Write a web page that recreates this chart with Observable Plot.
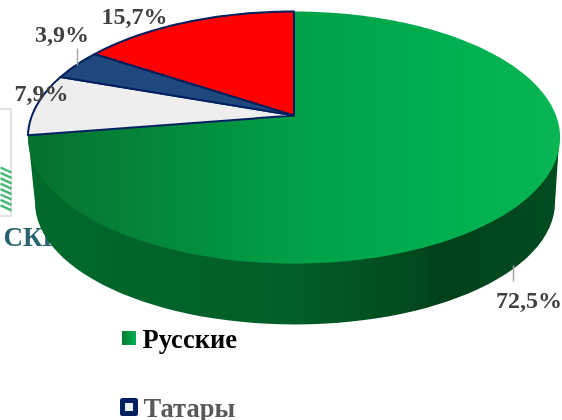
<!DOCTYPE html>
<html>
<head>
<meta charset="utf-8">
<script src="https://cdn.jsdelivr.net/npm/d3@7"></script>
<script src="https://cdn.jsdelivr.net/npm/@observablehq/plot@0.6"></script>
<style>html,body{margin:0;padding:0;background:#fff;overflow:hidden}svg{display:block;filter:blur(0.4px)}</style>
</head>
<body>
<script>
// Data, going anticlockwise from 12 o'clock
const sliceNames = ["Крымские татары", "Татары", "Другие", "Русские"];
const sliceValues = [15.7, 3.9, 7.9, 72.5];
const sliceLabels = ["15,7%", "3,9%", "7,9%", "72,5%"];
const sliceFills = ["#ff0000", "#1f497d", "#eeeeee", "url(#topGreen)"];
const sliceStrokes = ["#002060", "#002060", "#002060", "none"];
const legendNames = ["Русские", "Татары"];
const backgroundText = "СКИ";

// Perspective view of the pie's top face
const cx = 293.5, cy = 115, R = 262, K = 122.2, C = 0.1746;
const project = (turn) => {
  const a = turn * 2 * Math.PI, u = -Math.sin(a), v = Math.cos(a), w = 1 + C * v;
  return [cx + R * u / w, cy - K * v / w];
};
let acc = 0;
const slices = sliceValues.map((value, i) => {
  const t0 = acc / 100; acc += value; const t1 = acc / 100;
  const n = Math.max(4, Math.ceil(value * 3));
  const pts = [[cx, cy]];
  for (let k = 0; k <= n; k++) pts.push(project(t0 + (t1 - t0) * k / n));
  pts.push([cx, cy]);
  return {name: sliceNames[i], value, pts, fill: sliceFills[i], stroke: sliceStrokes[i]};
});

// Side wall: from the top rim's left and right extremes round the lower rim
const lower = d3.range(0, 181, 3).map(deg => {
  const a = deg * Math.PI / 180;
  return [294.5 - 260 * Math.cos(a), 202 + 122 * Math.sin(a)];
});
const rimL = project(0.275), rimR = [559, 135];
const side = [rimL, ...lower, rimR, rimL];

const defs = () => {
  const ns = "http://www.w3.org/2000/svg";
  const d = document.createElementNS(ns, "defs");
  const grad = (id, x1, x2, stops) => {
    const g = document.createElementNS(ns, "linearGradient");
    g.setAttribute("id", id); g.setAttribute("gradientUnits", "userSpaceOnUse");
    g.setAttribute("x1", x1); g.setAttribute("x2", x2); g.setAttribute("y1", 0); g.setAttribute("y2", 0);
    stops.forEach(([o, c]) => {
      const s = document.createElementNS(ns, "stop");
      s.setAttribute("offset", o); s.setAttribute("stop-color", c); g.appendChild(s);
    });
    d.appendChild(g);
  };
  grad("topGreen", 27, 560, [[0, "#07702f"], [0.5, "#00a046"], [0.8, "#00b050"], [1, "#0ab552"]]);
  grad("sideGreen", 27, 560, [[0, "#00692c"], [0.5, "#025e28"], [0.72, "#024a1f"], [0.78, "#00401a"], [1, "#014d20"]]);
  grad("swatchGreen", 122, 136, [[0, "#0b7a35"], [1, "#00b050"]]);
  return d;
};

const serif = "Liberation Serif";
const labelX = [134, 61.5, 41, 528.5], labelY = [16, 34, 93, 300];
const stripes = d3.range(8);

document.body.appendChild(Plot.plot({
  width: 562, height: 420,
  margin: 0,
  x: {domain: [0, 562], range: [0, 562], axis: null},
  y: {domain: [0, 420], range: [0, 420], axis: null},
  marks: [
    defs,
    // logo fragment behind the chart
    Plot.rect([0], {x1: () => -2, x2: () => 11, y1: () => 109, y2: () => 216, fill: "#fff", stroke: "#d8d8d8", strokeWidth: 1.5}),
    Plot.link(stripes, {x1: () => 0, x2: () => 11, y1: i => 167 + i * 5.4, y2: i => 172 + i * 5.4, stroke: "#45b876", strokeWidth: 2.4}),
    Plot.text([backgroundText], {x: 3, y: 237, text: d => d, textAnchor: "start", fontFamily: serif, fontWeight: "bold", fontSize: 27, fill: "#2a6470"}),
    // side wall
    Plot.line(side, {x: d => d[0], y: d => d[1], fill: "url(#sideGreen)", stroke: "none"}),
    // top face slices: green first so the outlined slices sit above it
    ...[3, 2, 1, 0].map(i => Plot.line(slices[i].pts, {
      x: d => d[0], y: d => d[1], fill: slices[i].fill, stroke: slices[i].stroke, strokeWidth: 2, strokeLinejoin: "round"
    })),
    // leader lines
    Plot.link([0], {x1: () => 77, x2: () => 77, y1: () => 48, y2: () => 65, stroke: "#a6a6a6", strokeWidth: 1.5}),
    Plot.link([0], {x1: () => 513, x2: () => 513, y1: () => 265, y2: () => 281, stroke: "#a6a6a6", strokeWidth: 1.5}),
    // data labels
    Plot.text(sliceLabels, {
      x: (d, i) => labelX[i], y: (d, i) => labelY[i], text: d => d,
      fontFamily: serif, fontWeight: "bold", fontSize: 24, fill: "#404040", textAnchor: "middle", lineAnchor: "middle"
    }),
    // legend
    Plot.rect([0], {x1: () => 122, x2: () => 136, y1: () => 331, y2: () => 345, fill: "url(#swatchGreen)"}),
    Plot.rect([0], {x1: () => 122.5, x2: () => 135.5, y1: () => 400.5, y2: () => 413.5, fill: "#eeeeee", stroke: "#002060", strokeWidth: 5, strokeLinejoin: "round"}),
    Plot.text([legendNames[0]], {x: 142, y: 339, text: d => d, textAnchor: "start", lineAnchor: "middle", fontFamily: serif, fontWeight: "bold", fontSize: 26.5, fill: "#000"}),
    Plot.text([legendNames[1]], {x: 143, y: 408, text: d => d, textAnchor: "start", lineAnchor: "middle", fontFamily: serif, fontWeight: "bold", fontSize: 26.5, fill: "#595959"})
  ]
}));
</script>
</body>
</html>
